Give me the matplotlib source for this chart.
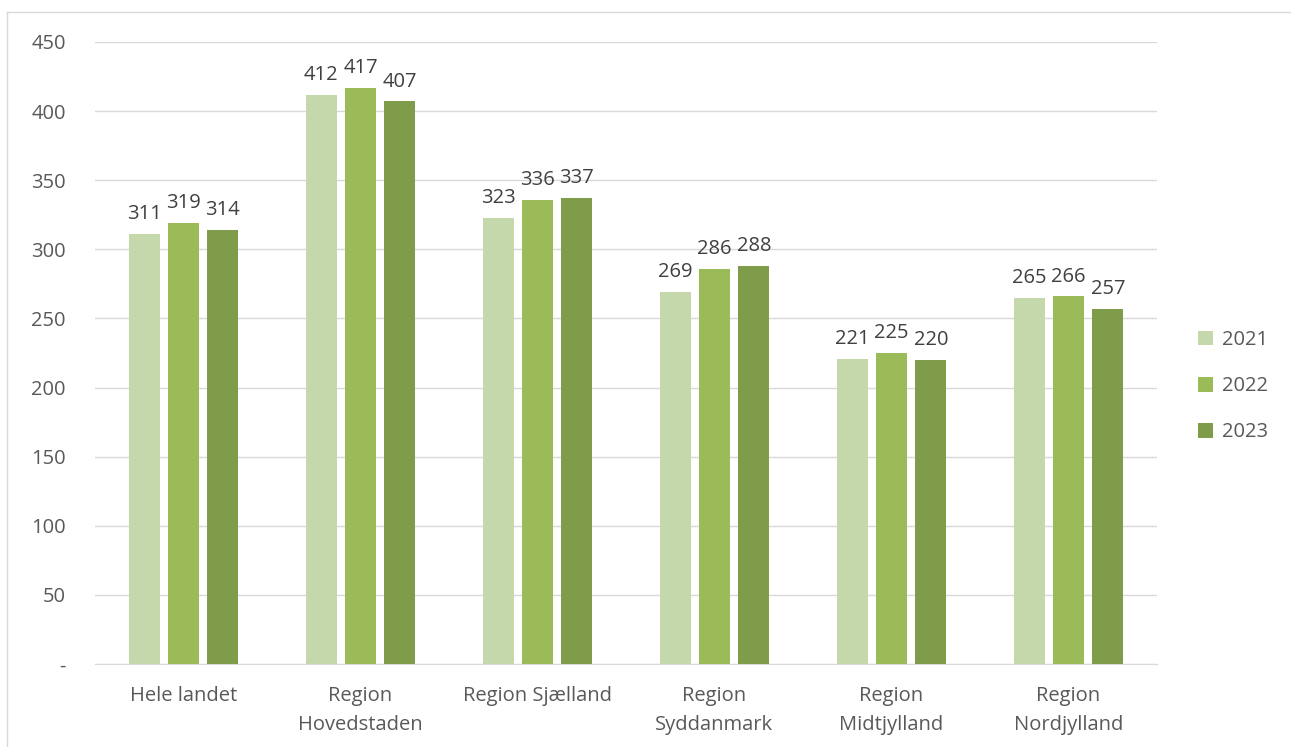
import matplotlib
matplotlib.use("Agg")
import matplotlib.pyplot as plt
import numpy as np

categories = ["Hele landet", "Region\nHovedstaden", "Region Sjælland",
              "Region\nSyddanmark", "Region\nMidtjylland", "Region\nNordjylland"]
years = ["2021", "2022", "2023"]
v2021 = [311, 412, 323, 269, 221, 265]
v2022 = [319, 417, 336, 286, 225, 266]
v2023 = [314, 407, 337, 288, 220, 257]
yticks = [0, 50, 100, 150, 200, 250, 300, 350, 400, 450]
ytick_labels = ["-", "50", "100", "150", "200", "250", "300", "350", "400", "450"]

colors = ["#C5D8AC", "#9BBB59", "#7F9C4A"]
plt.rcParams['font.family'] = ['Open Sans', 'DejaVu Sans']

W, H = 1291, 747
fig = plt.figure(figsize=(W/100, H/100), dpi=100)
ax = fig.add_axes([95/W, 1-664/H, (1157-95)/W, (664-42)/H])

FS = 14.5
x = np.arange(len(categories))
bw = 0.175
step = 0.222
series = [v2021, v2022, v2023]
for i, (vals, c, yr) in enumerate(zip(series, colors, years)):
    pos = x + (i-1)*step
    ax.bar(pos, vals, width=bw, color=c, label=yr, zorder=3)
    for p, v in zip(pos, vals):
        ax.annotate(str(v), (p, v), xytext=(0, 7), textcoords="offset points",
                    ha="center", va="bottom", fontsize=FS, color="#404040")

ax.set_xlim(-0.5, len(categories)-0.5)
ax.set_ylim(0, 450)
ax.set_yticks(yticks)
ax.set_yticklabels(ytick_labels)
ax.set_xticks(x)
ax.set_xticklabels(categories, linespacing=1.6)
ax.tick_params(axis='both', length=0, labelsize=FS, labelcolor="#595959")
ax.tick_params(axis='y', pad=21)
ax.tick_params(axis='x', pad=16)
ax.grid(axis='y', color="#D9D9D9", linewidth=1, zorder=0)
for s in ["top", "right", "left"]:
    ax.spines[s].set_visible(False)
ax.spines["bottom"].set_color("#D9D9D9")

leg = fig.legend(loc="upper left", bbox_to_anchor=(1180/W, 1-312/H), frameon=False,
                 fontsize=FS, handlelength=0.75, handleheight=0.75,
                 labelspacing=1.3, handletextpad=0.45)
for t in leg.get_texts():
    t.set_color("#595959")

# outer chart border
fig.add_artist(plt.Line2D([7/W, 7/W], [0, 1-12/H], transform=fig.transFigure,
                          color="#D9D9D9", linewidth=1))
fig.add_artist(plt.Line2D([7/W, 1], [1-12/H, 1-12/H], transform=fig.transFigure,
                          color="#D9D9D9", linewidth=1))

fig.savefig("out.png", dpi=100)
